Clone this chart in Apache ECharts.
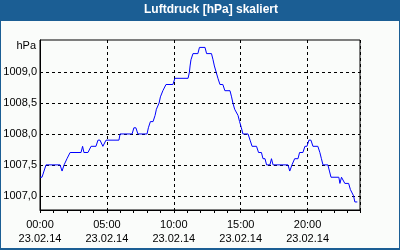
<!DOCTYPE html>
<html>
<head>
<meta charset="utf-8">
<style>html,body{margin:0;padding:0;background:#1b5e94;}#c{width:400px;height:250px;}</style>
<script src="https://cdn.jsdelivr.net/npm/echarts@6/dist/echarts.min.js"></script>
</head>
<body>
<div id="c"></div>
<script>
// time of day in minutes since 00:00 on 23.02.14
var minutes = [0, 9, 18, 27, 90, 99, 108, 121, 135, 184, 191, 197, 215, 229, 251, 260, 269, 282, 296, 354, 359,
  413, 421, 430, 439, 480, 486, 495, 507, 516, 522, 529, 534, 540, 545, 551, 556, 565, 596, 605, 664, 670, 673, 677,
  686, 708, 715, 740, 747, 769, 776, 782, 790, 798, 807, 820, 829, 852, 859, 865, 873, 881, 888, 895, 903, 910, 933,
  942, 951, 971, 980, 993, 1000, 1009, 1016, 1031, 1038, 1045, 1112, 1120, 1130, 1142, 1157, 1164, 1179, 1188, 1197,
  1206, 1215, 1224, 1246, 1255, 1262, 1269, 1291, 1298, 1305, 1340, 1345, 1352, 1358, 1367, 1384, 1392, 1399, 1406,
  1412, 1423];
var pressure = [1007.3, 1007.3, 1007.4, 1007.5, 1007.5, 1007.4, 1007.5, 1007.6, 1007.7, 1007.7, 1007.8, 1007.7, 1007.7,
  1007.8, 1007.8, 1007.9, 1007.9, 1007.8, 1007.9, 1007.9, 1008.0,
  1008.0, 1008.1, 1008.1, 1008.0, 1008.0, 1008.1, 1008.2, 1008.2, 1008.3, 1008.4, 1008.4, 1008.5, 1008.6, 1008.6,
  1008.7, 1008.7, 1008.8, 1008.8, 1008.9, 1008.9, 1009.0, 1009.1, 1009.2,
  1009.3, 1009.3, 1009.4, 1009.4, 1009.3, 1009.3, 1009.2, 1009.1, 1009.0, 1008.9, 1008.8, 1008.8, 1008.7, 1008.7,
  1008.6, 1008.5, 1008.4, 1008.4, 1008.3, 1008.2, 1008.1, 1008.0, 1008.0,
  1007.9, 1007.8, 1007.8, 1007.7, 1007.7, 1007.6, 1007.6, 1007.5, 1007.5, 1007.6, 1007.5, 1007.5, 1007.4, 1007.5,
  1007.6, 1007.6, 1007.7, 1007.7, 1007.8, 1007.8,
  1007.9, 1007.9, 1007.8, 1007.8, 1007.7, 1007.6, 1007.5, 1007.5, 1007.4, 1007.3, 1007.3, 1007.2, 1007.3, 1007.3,
  1007.2, 1007.2, 1007.1, 1007.1, 1007.0,
  1006.9, 1006.9];
var yTicks = [1007.0, 1007.5, 1008.0, 1008.5, 1009.0];
var dateLabel = '23.02.14';
var titleText = 'Luftdruck [hPa] skaliert';
var unitText = 'hPa';

var data = minutes.map(function (m, i) { return [m, pressure[i]]; });
function pad(n) { return (n < 10 ? '0' : '') + n; }
var font = 'Liberation Sans';
var chart = echarts.init(document.getElementById('c'), null, { renderer: 'canvas' });
chart.setOption({
  backgroundColor: '#1b5e94',
  animation: false,
  graphic: [{
    type: 'rect', z: -10, silent: true,
    shape: { x: 1, y: 21, width: 398, height: 227 },
    style: { fill: '#fafcfa' }
  }],
  title: {
    text: titleText, left: 144, top: 4, padding: 0,
    textStyle: { color: '#ffffff', fontFamily: font, fontSize: 12, fontWeight: 'bold', lineHeight: 12 }
  },
  grid: {
    left: 40, top: 40, width: 320, height: 170,
    show: true, borderColor: '#000', borderWidth: 1, backgroundColor: 'transparent'
  },
  xAxis: [{
    type: 'value', min: 0, max: 1435, interval: 60,
    axisLine: { show: true, lineStyle: { color: '#000', width: 1 } },
    axisTick: { show: true, inside: false, length: 3, lineStyle: { color: '#000' } },
    axisLabel: { show: false },
    splitLine: { show: false }
  }, {
    type: 'value', min: 0, max: 1435, interval: 300, position: 'bottom',
    axisLine: { show: false }, axisTick: { show: false },
    axisLabel: {
      show: true, showMaxLabel: false, margin: 8, color: '#000', fontFamily: font, fontSize: 11, lineHeight: 14,
      formatter: function (v) { return pad(Math.floor(v / 60)) + ':' + pad(v % 60) + '\n' + dateLabel; }
    },
    splitLine: { show: true, lineStyle: { color: '#000', width: 1, type: [3, 3] } }
  }],
  yAxis: {
    type: 'value', min: 1006.77, max: 1009.52,
    name: unitText, nameLocation: 'end', nameGap: -6,
    nameTextStyle: { color: '#000', fontFamily: font, fontSize: 11, align: 'right', verticalAlign: 'middle', padding: [0, 4, 0, 0] },
    axisLine: { show: true, lineStyle: { color: '#000', width: 1 } },
    axisTick: { show: false, customValues: yTicks },
    axisLabel: {
      customValues: yTicks, margin: 3, color: '#000', fontFamily: font, fontSize: 11,
      formatter: function (v) { return v.toFixed(1).replace('.', ','); }
    },
    splitLine: { show: true, lineStyle: { color: '#000', width: 1, type: [3, 3] } }
  },
  series: [{
    type: 'line', xAxisIndex: 0, data: data, showSymbol: false, symbol: 'none',
    lineStyle: { color: '#0000ff', width: 1 }, z: 5
  }]
});
</script>
</body>
</html>
